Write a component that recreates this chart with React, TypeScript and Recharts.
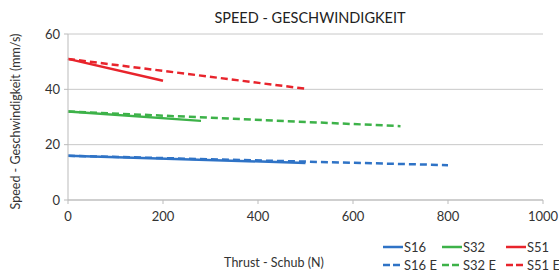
import { LineChart, Line, XAxis, YAxis, CartesianGrid } from "recharts";

// start / end points (thrust N, speed mm/s)
const s16 = [{ x: 0, y: 16 }, { x: 500, y: 13.4 }];
const s32 = [{ x: 0, y: 32 }, { x: 280, y: 28.6 }];
const s51 = [{ x: 0, y: 51 }, { x: 200, y: 43.1 }];
const s16E = [{ x: 0, y: 16 }, { x: 800, y: 12.6 }];
const s32E = [{ x: 0, y: 32 }, { x: 700, y: 26.7 }];
const s51E = [{ x: 0, y: 51 }, { x: 500, y: 40.2 }];

const xTicks = [0, 200, 400, 600, 800, 1000];
const yTicks = [0, 20, 40, 60];

const BLUE = "#2f73c6";
const GREEN = "#3db249";
const RED = "#e8242c";
const FONT = "Lato, 'Open Sans', sans-serif";

const series = [
  { name: "S16", data: s16, color: BLUE, dashed: false },
  { name: "S32", data: s32, color: GREEN, dashed: false },
  { name: "S51", data: s51, color: RED, dashed: false },
  { name: "S16 E", data: s16E, color: BLUE, dashed: true },
  { name: "S32 E", data: s32E, color: GREEN, dashed: true },
  { name: "S51 E", data: s51E, color: RED, dashed: true },
];

// legend cells: left edge of swatch, row
const legendPos = [
  { left: 383, top: 240 },
  { left: 442, top: 240 },
  { left: 506, top: 240 },
  { left: 383, top: 258 },
  { left: 442, top: 258 },
  { left: 506, top: 258 },
];

export default function App() {
  return (
    <div style={{ position: "absolute", left: 0, top: 0, width: 559, height: 273, background: "#fff", fontFamily: FONT, color: "#333", overflow: "hidden" }}>
      <div style={{ position: "absolute", left: 0, width: 620, top: 9, textAlign: "center", fontSize: 14.5, color: "#222" }}>
        SPEED - GESCHWINDIGKEIT
      </div>
      <LineChart width={559} height={273} data={s16} margin={{ top: 34, right: 16, bottom: 43, left: 8 }}>
        <CartesianGrid vertical={false} stroke="#c8c8c8" />
        <XAxis
          type="number"
          dataKey="x"
          domain={[0, 1000]}
          ticks={xTicks}
          stroke="#bbb"
          tickSize={4}
          height={30}
          tick={{ fill: "#333", fontSize: 13, fontFamily: FONT }}
          tickMargin={8}
          allowDuplicatedCategory={false}
        />
        <YAxis
          type="number"
          dataKey="y"
          domain={[0, 60]}
          ticks={yTicks}
          stroke="#bbb"
          tickSize={4}
          width={60}
          tick={{ fill: "#333", fontSize: 13, fontFamily: FONT }}
          tickMargin={4}
        />
        {series.map((s) => (
          <Line
            key={s.name}
            data={s.data}
            dataKey="y"
            type="linear"
            stroke={s.color}
            strokeWidth={2.5}
            strokeDasharray={s.dashed ? "7 4" : undefined}
            dot={false}
            isAnimationActive={false}
          />
        ))}
      </LineChart>
      <div style={{ position: "absolute", left: -85, top: 114, width: 200, textAlign: "center", fontSize: 12.5, transform: "rotate(-90deg)", whiteSpace: "nowrap" }}>
        Speed - Geschwindigkeit (mm/s)
      </div>
      <div style={{ position: "absolute", left: 174, width: 200, top: 255, textAlign: "center", fontSize: 12.5 }}>
        Thrust - Schub (N)
      </div>
      {series.map((s, i) => (
        <div key={s.name} style={{ position: "absolute", left: legendPos[i].left, top: legendPos[i].top, display: "flex", alignItems: "center", fontSize: 13, lineHeight: "14px", whiteSpace: "nowrap" }}>
          <svg width={20} height={10} style={{ marginRight: 1 }}>
            <line x1={0} y1={5} x2={20} y2={5} stroke={s.color} strokeWidth={2.5} strokeDasharray={s.dashed ? "7 3" : undefined} />
          </svg>
          {s.name}
        </div>
      ))}
    </div>
  );
}
